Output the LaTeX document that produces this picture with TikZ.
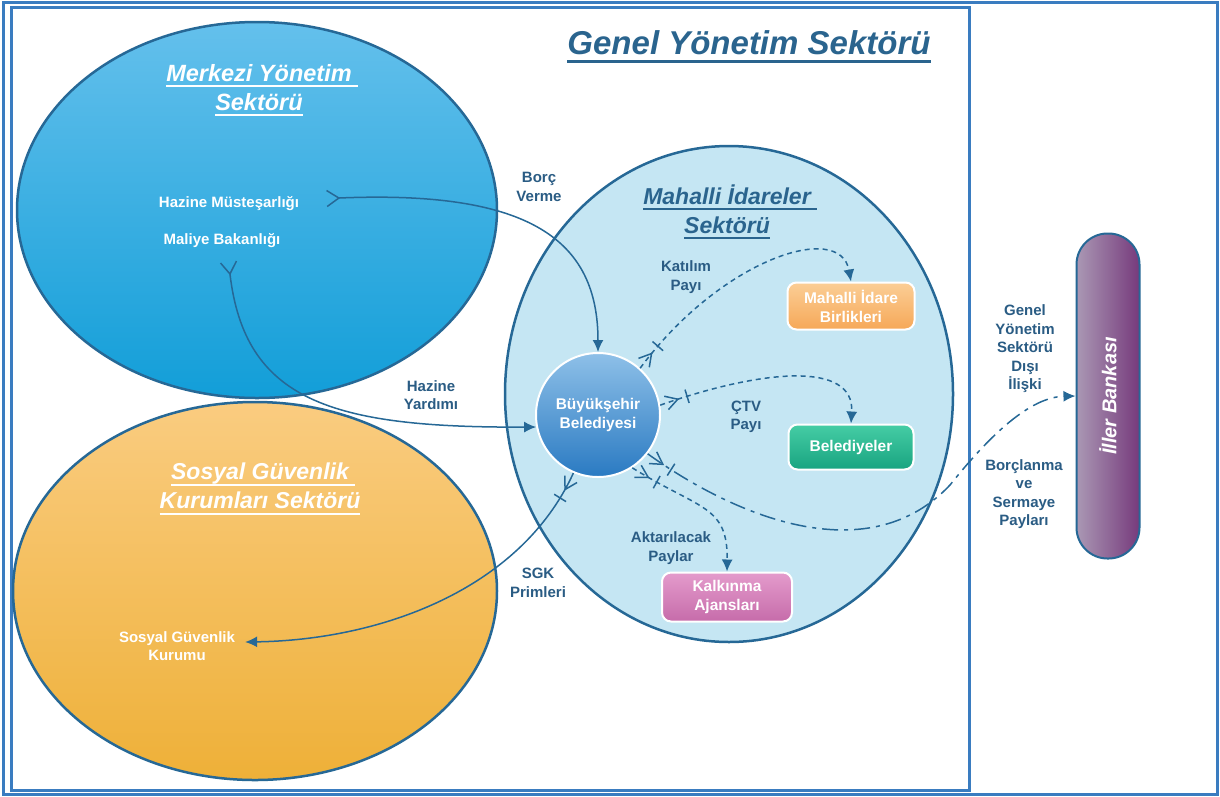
\documentclass[tikz,border=0pt]{standalone}
\usepackage{fontspec}
\setmainfont{Liberation Sans}
\usetikzlibrary{arrows.meta,shapes.geometric,decorations.markings}
\newlength{\ulwd}
\newcommand{\myul}[3]{\settowidth{\ulwd}{#3}\rlap{\rule[#1]{\ulwd}{#2}}#3}
\definecolor{framec}{RGB}{58,124,192}
\definecolor{linec}{RGB}{38,104,150}
\definecolor{labc}{RGB}{42,92,132}
\definecolor{titlec}{RGB}{42,100,142}
\definecolor{merkT}{RGB}{100,192,236}
\definecolor{merkB}{RGB}{18,158,216}
\definecolor{oraT}{RGB}{250,204,128}
\definecolor{oraB}{RGB}{238,176,56}
\definecolor{mahF}{RGB}{197,230,243}
\definecolor{bbT}{RGB}{142,192,232}
\definecolor{bbB}{RGB}{42,122,194}
\definecolor{mibT}{RGB}{251,206,150}
\definecolor{mibB}{RGB}{246,168,88}
\definecolor{belT}{RGB}{70,205,165}
\definecolor{belB}{RGB}{24,164,128}
\definecolor{kalT}{RGB}{228,155,204}
\definecolor{kalB}{RGB}{198,108,170}
\definecolor{illL}{RGB}{170,152,180}
\definecolor{illR}{RGB}{118,58,124}
\begin{document}
\begin{tikzpicture}[x=1pt,y=-1pt,
  framebox/.style={draw=framec,line width=3pt},
  sector/.style={ellipse,draw=linec,line width=2.5pt,inner sep=0pt},
  sectitle/.style={text=white,align=center,font=\fontsize{23}{29}\selectfont\bfseries\itshape},
  inst/.style={text=white,align=center,font=\fontsize{15}{18.5}\selectfont\bfseries,inner sep=0pt},
  lab/.style={text=labc,align=center,font=\fontsize{15}{18.5}\selectfont\bfseries,inner sep=0pt},
  unitbox/.style={rounded corners=9pt,draw=white,line width=2pt,text=white,align=center,
     font=\fontsize{15.5}{19}\selectfont\bfseries,inner sep=0pt},
  flow/.style={draw=linec,line width=1.5pt,-{Latex[length=12pt,width=11pt]}},
  dflow/.style={flow,dash pattern=on 5pt off 4pt},
  ddflow/.style={flow,dash pattern=on 16pt off 6pt on 4pt off 6pt},
  startbarb/.style={postaction={decorate},decoration={markings,
     mark=at position 1pt with {\arrow{Straight Barb[length=12pt,width=16pt]}}}},
  tickbarb/.style={postaction={decorate},decoration={markings,
     mark=at position 20pt with {\arrow{Straight Barb[length=12pt,width=14pt]}},
     mark=at position 29pt with {\arrow{Bar[width=14pt]}}}}
]
\useasboundingbox (0,0) rectangle (1220,796);
\fill[white] (0,0) rectangle (1220,796);
\draw[framebox] (3,2) rectangle (1217,794);
\draw[framebox] (11,7) rectangle (969,790);

% sectors
\node[sector,minimum width=480pt,minimum height=376pt,top color=merkT,bottom color=merkB] (merkezi) at (257,210) {};
\node[sector,minimum width=484pt,minimum height=378pt,top color=oraT,bottom color=oraB] (sosyal) at (255,591) {};
\node[sector,minimum width=448pt,minimum height=496pt,fill=mahF] (mahalli) at (729,394) {};

% titles
\node[text=titlec,font=\fontsize{33}{36}\selectfont\bfseries\itshape] (genel) at (749,47) {\myul{-8pt}{3pt}{Genel Yönetim Sektörü}};
\node[sectitle,font=\fontsize{23.5}{29}\selectfont\bfseries\itshape] (merkT) at (259,90) {\myul{-6pt}{2pt}{Merkezi Yönetim }\\\myul{-6pt}{2pt}{Sektörü}};
\node[sectitle] (sosT) at (260,489) {\myul{-6pt}{2pt}{Sosyal Güvenlik }\\\myul{-6pt}{2pt}{Kurumları Sektörü}};
\node[sectitle,text=titlec] (mahT) at (727,212) {\myul{-6pt}{2pt}{Mahalli İdareler }\\\myul{-6pt}{2pt}{Sektörü}};

% institutions
\node[inst] (hazine) at (229,204) {Hazine Müsteşarlığı};
\node[inst] (maliye) at (222,241) {Maliye Bakanlığı};
\node[inst] (sgkkur) at (177,646) {Sosyal Güvenlik\\Kurumu};
\node[circle,minimum size=124pt,draw=white,line width=2pt,top color=bbT,bottom color=bbB,
  text=white,align=center,font=\fontsize{15.5}{19}\selectfont\bfseries,inner sep=0pt] (bb) at (598,415) {Büyükşehir\\Belediyesi};
\node[unitbox,minimum width=127pt,minimum height=47pt,top color=mibT,bottom color=mibB] (mib) at (851,306) {Mahalli İdare\\Birlikleri};
\node[unitbox,minimum width=125pt,minimum height=45pt,top color=belT,bottom color=belB] (bel) at (851,447) {Belediyeler};
\node[unitbox,minimum width=130pt,minimum height=49pt,top color=kalT,bottom color=kalB] (kal) at (727,597) {Kalkınma\\Ajansları};
\node[rounded corners=31pt,draw=linec,line width=2pt,minimum width=63pt,minimum height=325pt,
  left color=illL,right color=illR,inner sep=0pt] (iller) at (1108,396) {};
\node[rotate=90,text=white,font=\fontsize{20}{24}\selectfont\bfseries\itshape] (illerT) at (iller.center) {İller Bankası};

% labels
\node[lab] (lborc) at (539,187) {Borç\\Verme};
\node[lab] (lhy) at (431,395) {Hazine\\Yardımı};
\node[lab] (lkat) at (686,277) {Katılım\\Payı};
\node[lab] (lctv) at (746,417) {ÇTV\\Payı};
\node[lab] (lakt) at (671,548) {Aktarılacak\\Paylar};
\node[lab] (lsgk) at (538,583) {SGK\\Primleri};
\node[lab] (ldis) at (1025,349) {Genel\\Yönetim\\Sektörü\\Dışı\\İlişki};
\node[lab] (lbor) at (1024,494) {Borçlanma\\ve\\Sermaye\\Payları};

% connectors
\draw[flow,startbarb] ([xshift=40pt,yshift=6pt]hazine.east) .. controls (530,190) and (598,240) .. (bb.north);
\draw[flow,startbarb] ([xshift=8pt,yshift=-26pt]maliye.south) .. controls (245,400) and (330,428) .. (bb.191);
\draw[flow,tickbarb] (bb.247) .. controls (520,590) and (380,640) .. ([xshift=10pt,yshift=4pt]sgkkur.east);
\draw[dflow,tickbarb] (bb.48) .. controls (720,260) and (840,220) .. (mib.north);
\draw[dflow,tickbarb] (bb.9) .. controls (760,370) and (855,360) .. (bel.north);
\draw[dflow,tickbarb] (bb.-57) .. controls (700,510) and (728,505) .. (kal.north);
\draw[ddflow,tickbarb] (bb.-38) .. controls (740,520) and (870,570) .. (950,485)
   .. controls (990,435) and (1030,397) .. (iller.west);
\end{tikzpicture}
\end{document}
